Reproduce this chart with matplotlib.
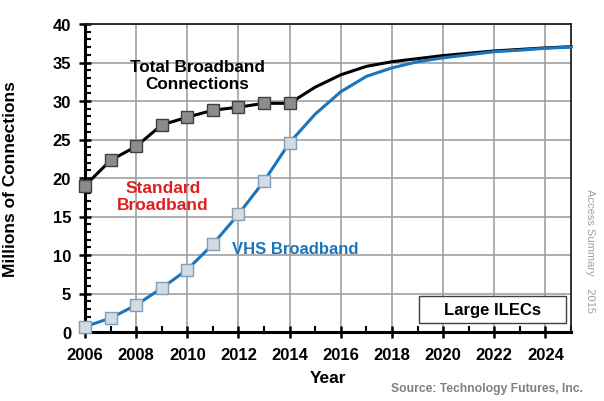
import matplotlib
matplotlib.use("Agg")
import matplotlib.pyplot as plt
from matplotlib.ticker import MultipleLocator
from matplotlib.patches import Rectangle

plt.rcParams['font.family'] = ['Liberation Sans', 'DejaVu Sans']

years = list(range(2006, 2026))
total = [19.0, 22.3, 24.1, 26.9, 27.9, 28.8, 29.2, 29.7, 29.7, 31.8,
         33.4, 34.5, 35.1, 35.5, 35.9, 36.2, 36.5, 36.7, 36.9, 37.05]
vhs = [0.7, 1.8, 3.5, 5.7, 8.1, 11.4, 15.3, 19.6, 24.6, 28.3,
       31.2, 33.2, 34.3, 35.1, 35.6, 36.0, 36.4, 36.6, 36.85, 37.0]
n_hist = 9  # markers for 2006-2014

fig = plt.figure(figsize=(6.04, 4.02), dpi=100)
ax = fig.add_axes([85/604, 1-333/402, (571-85)/604, (333-25)/402])

ax.set_xlim(2006, 2025)
ax.set_ylim(0, 40)
ax.xaxis.set_major_locator(MultipleLocator(2))
ax.xaxis.set_minor_locator(MultipleLocator(1))
ax.yaxis.set_major_locator(MultipleLocator(5))
ax.yaxis.set_minor_locator(MultipleLocator(1))
ax.grid(True, which='major', color='#a0a0a0', linewidth=1.2)
ax.set_axisbelow(True)

ax.plot(years, total, color='black', lw=2.2, zorder=3, clip_on=False)
ax.plot(years[:n_hist], total[:n_hist], ls='none', marker='s', ms=8.5,
        mfc='#8c8c8c', mec='#404040', mew=1, zorder=4, clip_on=False)
ax.plot(years, vhs, color='#1a75bb', lw=2.2, zorder=3, clip_on=False)
ax.plot(years[:n_hist], vhs[:n_hist], ls='none', marker='s', ms=8.5,
        mfc='#d3dbe3', mec='#7f9fb8', mew=1, zorder=4, clip_on=False)

for s in ['left', 'bottom']:
    ax.spines[s].set_linewidth(2.2)
    ax.spines[s].set_color('black')
for s in ['top', 'right']:
    ax.spines[s].set_linewidth(1.3)
    ax.spines[s].set_color('#202020')

ax.tick_params(which='major', direction='inout', length=8, width=1.8,
               labelsize=12, colors='black')
ax.tick_params(which='minor', direction='in', length=4, width=1.5)
ax.tick_params(axis='x', which='major', pad=7)
ax.tick_params(axis='y', which='major', pad=6)
for lbl in ax.get_xticklabels() + ax.get_yticklabels():
    lbl.set_fontweight('bold')

ax.set_xlabel('Year', fontsize=12.5, fontweight='bold')
ax.set_ylabel('Millions of Connections', fontsize=12.5, fontweight='bold')
ax.xaxis.set_label_coords(0.5, -0.125)
ax.yaxis.set_label_coords(-0.138, 0.5)

ax.text(2010.4, 33.4, 'Total Broadband\nConnections', ha='center', va='center',
        fontsize=12.3, color='black', fontweight='bold', linespacing=1.15, zorder=5)
ax.text(2009.05, 17.66, 'Standard\nBroadband', ha='center', va='center',
        fontsize=12.5, color='#e02020', fontweight='bold', linespacing=1.1, zorder=5)
ax.text(2011.75, 10.8, 'VHS Broadband', ha='left', va='center',
        fontsize=12, color='#1a75bb', fontweight='bold', zorder=5)

ax.add_patch(Rectangle((2019.06, 1.17), 5.74, 3.5, fc='white', ec='#404040',
                       lw=1, zorder=5))
ax.text(2021.93, 2.92, 'Large ILECs', ha='center', va='center', fontsize=12,
        color='black', fontweight='bold', zorder=6)

fig.text(590/604, 1-251/402, 'Access Summary    2015', rotation=-90,
         ha='center', va='center', fontsize=8, color='#a0a0a0')
fig.text(583/604, 1-389/402, 'Source: Technology Futures, Inc.', ha='right',
         va='center', fontsize=8.7, color='#808080', fontweight='bold')

fig.savefig('out.png', dpi=100)
